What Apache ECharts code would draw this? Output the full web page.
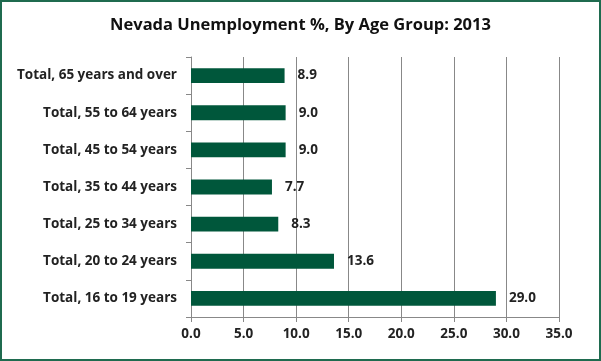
<!DOCTYPE html>
<html><head><meta charset="utf-8">
<script src="https://cdn.jsdelivr.net/npm/echarts@6/dist/echarts.min.js"></script>
<style>html,body{margin:0;padding:0;background:#fff}#c{width:601px;height:361px;box-sizing:border-box;border:2px solid #1f6b4f}</style>
</head><body><div id="c"></div>
<script>
const categories = ["Total, 16 to 19 years","Total, 20 to 24 years","Total, 25 to 34 years","Total, 35 to 44 years","Total, 45 to 54 years","Total, 55 to 64 years","Total, 65 years and over"];
const values = [29.0, 13.6, 8.3, 7.7, 9.0, 9.0, 8.9];
const titleText = "Nevada Unemployment %, By Age Group: 2013";
const chart = echarts.init(document.getElementById('c'), null, {renderer:'canvas'});
const font = "'Open Sans', Lato, sans-serif";
chart.setOption({
  animation:false,
  title:{text:titleText,left:'center',top:10,textStyle:{fontFamily:font,fontSize:16.5,fontWeight:'bold',color:'#111'}},
  grid:{left:189,right:40,top:55,bottom:42,containLabel:false},
  xAxis:{type:'value',min:0,max:35,interval:5,
    axisLine:{show:true,lineStyle:{color:'#888'}},
    axisTick:{show:true,length:5,lineStyle:{color:'#888'}},
    splitLine:{show:true,lineStyle:{color:'#888',width:1}},
    axisLabel:{formatter:v=>v.toFixed(1),fontFamily:font,fontSize:13.5,fontWeight:'bold',color:'#222',margin:10}},
  yAxis:{type:'category',data:categories,
    axisLine:{show:true,lineStyle:{color:'#888'}},
    axisTick:{show:true,length:5,lineStyle:{color:'#888'}},
    axisLabel:{fontFamily:font,fontSize:13.5,fontWeight:'bold',color:'#222',margin:14}},
  series:[{type:'bar',data:values,barCategoryGap:'60%',
    itemStyle:{color:'#00573b'},
    label:{show:true,position:'right',distance:13,formatter:p=>p.value.toFixed(1),fontFamily:font,fontSize:13.5,fontWeight:'bold',color:'#222'}}]
});
</script></body></html>
